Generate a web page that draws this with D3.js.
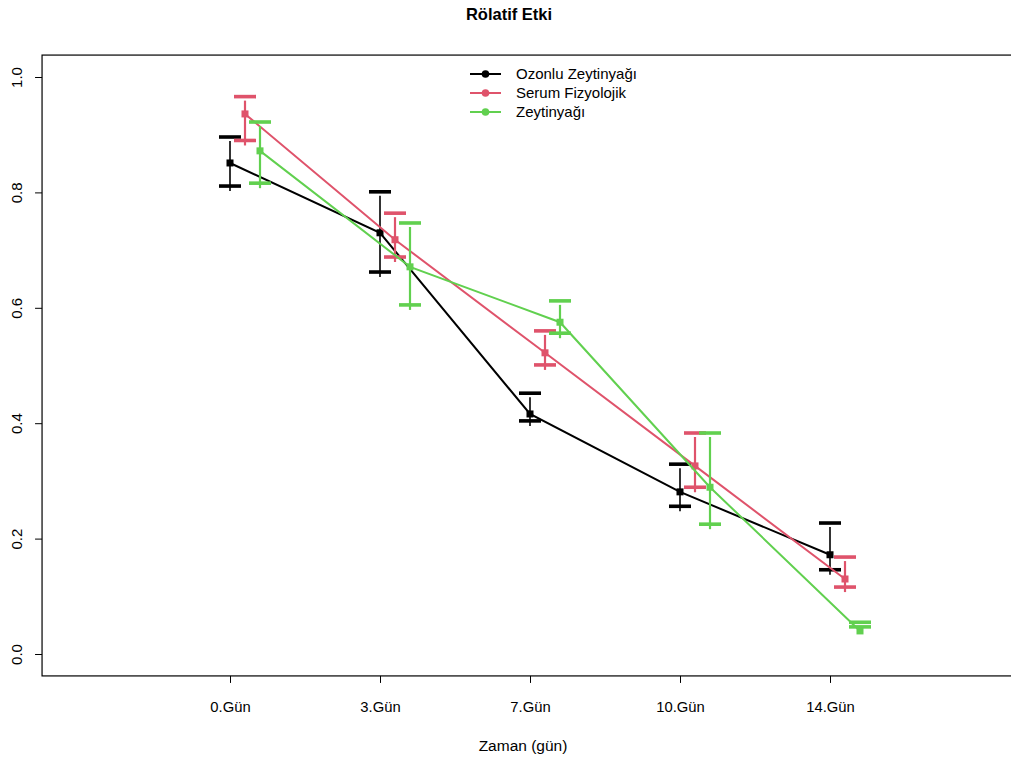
<!DOCTYPE html>
<html><head><meta charset="utf-8">
<script src="https://cdn.jsdelivr.net/npm/d3@7"></script>
<style>body{margin:0;background:#fff}svg{display:block;font-family:"Liberation Sans",Arial,sans-serif}</style>
</head><body>
<svg id="c" width="1011" height="764"></svg>
<script>
const categories = ["0.Gün","3.Gün","7.Gün","10.Gün","14.Gün"];
const seriesNames = ["Ozonlu Zeytinyağı","Serum Fizyolojik","Zeytinyağı"];
const seriesColors = ["#000000","#DF536B","#61D04F"];
const ozonluMean  = [0.851,0.730,0.416,0.281,0.172];
const ozonluUpper = [0.896,0.801,0.452,0.329,0.227];
const ozonluLower = [0.811,0.662,0.404,0.256,0.146];
const serumMean   = [0.936,0.718,0.522,0.326,0.130];
const serumUpper  = [0.966,0.764,0.560,0.383,0.168];
const serumLower  = [0.890,0.688,0.501,0.289,0.116];
const zeytinMean  = [0.872,0.671,0.575,0.289,0.040];
const zeytinUpper = [0.922,0.747,0.612,0.383,0.055];
const zeytinLower = [0.816,0.605,0.556,0.225,0.047];
const yTicks = [0,0.2,0.4,0.6,0.8,1.0];

const series = [
  {name:seriesNames[0],color:seriesColors[0],mean:ozonluMean,up:ozonluUpper,lo:ozonluLower,off:0,lw:2,ww:1.6},
  {name:seriesNames[1],color:seriesColors[1],mean:serumMean,up:serumUpper,lo:serumLower,off:0.1,lw:2,ww:2.2},
  {name:seriesNames[2],color:seriesColors[2],mean:zeytinMean,up:zeytinUpper,lo:zeytinLower,off:0.2,lw:2,ww:2.2}
];

(function(){
const svg = d3.select("#c");
const x = d3.scaleLinear().domain([0,4]).range([230,830]);
const y = d3.scaleLinear().domain([0,1]).range([654,77]);
const pLeft = x(-1.253), pRight = x(5.4), pTop = y(1.038), pBottom = y(-0.038);

svg.append("text").attr("x",509).attr("y",20).attr("text-anchor","middle")
  .attr("font-weight","bold").attr("font-size",16.5).text("Rölatif Etki");

svg.append("rect").attr("x",pLeft).attr("y",pTop).attr("width",pRight-pLeft).attr("height",pBottom-pTop)
  .attr("fill","none").attr("stroke","#000").attr("stroke-width",1.2);

const ya = svg.append("g").attr("transform",`translate(${pLeft},0)`)
  .call(d3.axisLeft(y).tickValues(yTicks).tickFormat(d3.format(".1f")).tickSize(7).tickSizeOuter(0));
ya.select(".domain").remove();
ya.selectAll("line").attr("stroke","#000").attr("stroke-width",1);
ya.selectAll(".tick text").attr("font-size",15).attr("fill","#000")
  .each(function(d){
    d3.select(this).attr("transform",`rotate(-90)`).attr("x",0).attr("y",-20).attr("dy","0").attr("text-anchor","middle");
  });

const xa = svg.append("g").attr("transform",`translate(0,${pBottom})`)
  .call(d3.axisBottom(x).tickValues(d3.range(categories.length)).tickFormat(i=>categories[i]).tickSize(7).tickSizeOuter(0));
xa.select(".domain").remove();
xa.selectAll("line").attr("stroke","#000").attr("stroke-width",1);
xa.selectAll("text").attr("font-size",14.8).attr("fill","#000").attr("y",26);

svg.append("text").attr("x",523).attr("y",751).attr("text-anchor","middle").attr("font-size",15.5).text("Zaman (gün)");

const line = d3.line();
series.forEach(s=>{
  const g = svg.append("g");
  const pts = s.mean.map((m,i)=>[x(i+s.off),y(m)]);
  g.append("path").attr("d",line(pts)).attr("fill","none").attr("stroke",s.color).attr("stroke-width",s.lw);
  s.mean.forEach((m,i)=>{
    const cx = x(i+s.off);
    g.append("line").attr("x1",cx).attr("x2",cx).attr("y1",y(s.up[i])+4).attr("y2",y(s.lo[i])+5)
      .attr("stroke",s.color).attr("stroke-width",s.ww);
    [s.up[i],s.lo[i]].forEach(v=>{
      g.append("line").attr("x1",cx-11).attr("x2",cx+11).attr("y1",y(v)).attr("y2",y(v))
        .attr("stroke",s.color).attr("stroke-width",3.6);
    });
    g.append("rect").attr("x",cx-3.5).attr("y",y(m)-3.5).attr("width",7).attr("height",7).attr("fill",s.color);
  });
});

const lg = svg.append("g");
series.forEach((s,i)=>{
  const ly = 74 + i*19;
  lg.append("line").attr("x1",470).attr("x2",501).attr("y1",ly).attr("y2",ly).attr("stroke",s.color).attr("stroke-width",2);
  lg.append("circle").attr("cx",485.5).attr("cy",ly).attr("r",3.8).attr("fill",s.color);
  lg.append("text").attr("x",516).attr("y",ly+5).attr("font-size",15).text(s.name);
});
})();
</script>
</body></html>
